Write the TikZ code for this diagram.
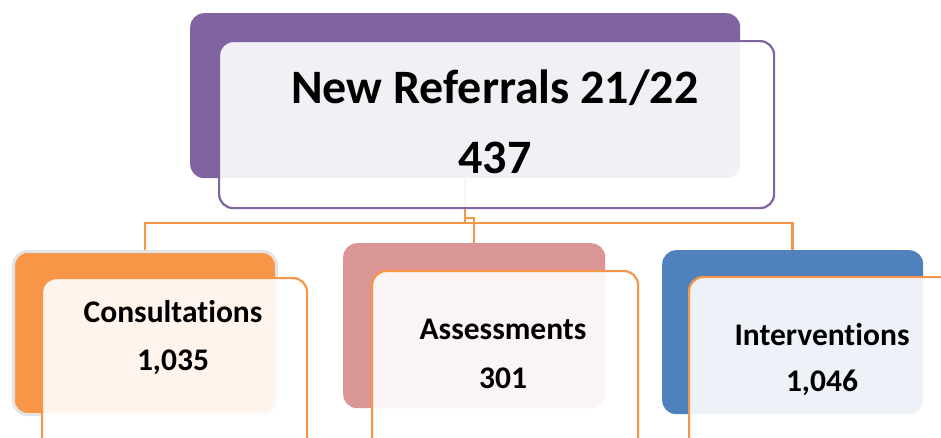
\documentclass[tikz,border=0pt]{standalone}
\usepackage{fontspec}
\setmainfont{Carlito}[Ligatures=NoCommon]
\definecolor{cpurple}{HTML}{8064A2}
\definecolor{corange}{HTML}{F79646}
\definecolor{cpink}{HTML}{D99694}
\definecolor{cblue}{HTML}{4F81BD}
\definecolor{cgray}{HTML}{E3E3E3}
\begin{document}
\begin{tikzpicture}[x=1pt,y=-1pt,
  back/.style={rectangle,rounded corners=14pt,inner sep=0pt,anchor=north west},
  front/.style={rectangle,rounded corners=14pt,inner sep=0pt,anchor=north west,fill=white,fill opacity=0.9,line width=2.2pt},
  conn/.style={draw=corange,line width=2.5pt},
  ttl/.style={font=\bfseries\fontsize{48}{52}\selectfont,text=black,inner sep=0pt},
  lbl/.style={font=\bfseries\fontsize{31.5}{35}\selectfont,text=black,inner sep=0pt}]
\useasboundingbox (0,0) rectangle (941,437);
\clip (0,0) rectangle (941,437);
% back boxes
\node[back,fill=cpurple,minimum width=550pt,minimum height=165pt] (pback) at (190,13) {};
\node[back,fill=corange,draw=cgray,line width=3pt,minimum width=263pt,minimum height=163pt] (lback) at (12,250) {};
\node[back,fill=cpink,minimum width=262pt,minimum height=165pt] (mback) at (343,243) {};
\node[back,fill=cblue,minimum width=261pt,minimum height=164pt] (rback) at (662,250) {};
% connectors
\draw[conn] (pback.south) -- ([yshift=-45pt]pback.south);
\draw[conn] (lback.north) -- ([yshift=27pt]lback.north) -| (rback.north);
\draw[conn] (pback.south) |- ([yshift=25pt]mback.north) -- (mback.north);
% front boxes
\node[front,draw=cpurple,minimum width=555pt,minimum height=167pt] (pfront) at (218,40) {};
\node[front,draw=corange,minimum width=265pt,minimum height=200pt] (lfront) at (41,277) {};
\node[front,draw=corange,minimum width=266pt,minimum height=200pt] (mfront) at (371,270) {};
\node[front,draw=corange,minimum width=268pt,minimum height=200pt] (rfront) at (688,276) {};
% texts
\node[ttl] (ptitle) at (495,88) {New Referrals 21/22};
\node[ttl] (pnum) at (495,158) {437};
\node[lbl] (ltitle) at (173,312) {Consultations};
\node[lbl] (lnum) at (173,362) {1,035};
\node[lbl] (mtitle) at (503,329) {Assessments};
\node[lbl] (mnum) at (503,378) {301};
\node[lbl] (rtitle) at (822,335) {Interventions};
\node[lbl] (rnum) at (822,383) {1,046};
\end{tikzpicture}
\end{document}
